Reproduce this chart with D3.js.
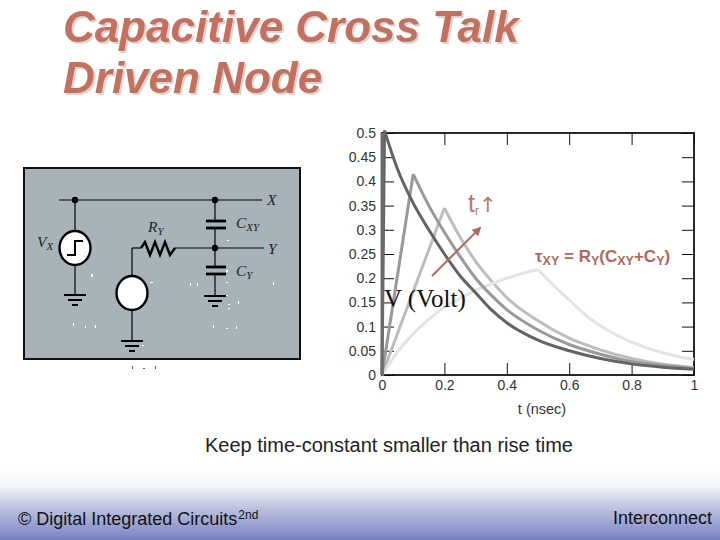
<!DOCTYPE html>
<html><head><meta charset="utf-8">
<script src="https://cdn.jsdelivr.net/npm/d3@7/dist/d3.min.js"></script>
<style>html,body{margin:0;padding:0;background:#fff}svg{display:block}</style>
</head><body><div id="c"></div>
<script>
const xTicks=[0,0.2,0.4,0.6,0.8,1];
const xTickLabels=["0","0.2","0.4","0.6","0.8","1"];
const yTicks=[0,0.05,0.1,0.15,0.2,0.25,0.3,0.35,0.4,0.45,0.5];
const yTickLabels=["0","0.05","0.1","0.15","0.2","0.25","0.3","0.35","0.4","0.45","0.5"];
const t1=[0,0.008,0.05,0.1,0.15,0.2,0.25,0.3,0.35,0.4,0.5,0.6,0.7,0.8,0.9,1];
const v1=[0,0.505,0.425,0.355,0.3,0.25,0.205,0.17,0.135,0.108,0.072,0.05,0.034,0.023,0.016,0.012];
const t2=[0,0.1,0.15,0.2,0.25,0.3,0.35,0.4,0.5,0.6,0.7,0.8,0.9,1];
const v2=[0,0.415,0.35,0.295,0.245,0.2,0.165,0.135,0.093,0.063,0.043,0.028,0.02,0.014];
const t3=[0,0.2,0.25,0.3,0.35,0.4,0.5,0.6,0.7,0.8,0.9,1];
const v3=[0,0.345,0.285,0.235,0.195,0.16,0.112,0.076,0.052,0.034,0.022,0.015];
const t4=[0,0.05,0.1,0.15,0.2,0.25,0.3,0.35,0.4,0.45,0.5,0.55,0.6,0.65,0.7,0.8,0.9,1];
const v4=[0,0.048,0.085,0.115,0.14,0.158,0.175,0.188,0.2,0.21,0.218,0.185,0.155,0.125,0.102,0.068,0.046,0.032];
const railT=[0,0];
const railV=[0,0.5];
const seriesColors=["#bdbdbd","#e4e4e4","#999999","#636363"];

const W=720,H=540;
const svg=d3.select("#c").append("svg").attr("width",W).attr("height",H);
const defs=svg.append("defs");
const g=defs.append("linearGradient").attr("id","foot").attr("x1",0).attr("x2",0).attr("y1",0).attr("y2",1);
[[0,"#ffffff"],[0.25,"#f2f3f8"],[0.55,"#bcc1de"],[1,"#7882c4"]].forEach(s=>g.append("stop").attr("offset",s[0]).attr("stop-color",s[1]));
svg.append("rect").attr("x",0).attr("y",470).attr("width",W).attr("height",70).attr("fill","url(#foot)");

// Title
const tfont="'Liberation Sans',Arial,sans-serif";
[["Capacitive Cross Talk",42],["Driven Node",93]].forEach(d=>{
  svg.append("text").attr("x",63).attr("y",d[1]).text(d[0]).attr("font-family",tfont).attr("font-size",44).attr("font-weight","bold").attr("font-style","italic").attr("fill","#c4705f").style("filter","drop-shadow(2px 2px 0 #d9d5d3)");
});

// Circuit
const cir=svg.append("g").attr("stroke","#000").attr("fill","none").attr("stroke-width",1.2);
svg.insert("rect","g").attr("x",24).attr("y",168).attr("width",276).attr("height",191).attr("fill","#a7b3b9").attr("stroke","#111").attr("stroke-width",2);
const ln=(x1,y1,x2,y2,w)=>cir.append("line").attr("x1",x1).attr("y1",y1).attr("x2",x2).attr("y2",y2).attr("stroke-width",w||1.2);
const dot=(x,y)=>cir.append("circle").attr("cx",x).attr("cy",y).attr("r",3.2).attr("fill","#000").attr("stroke","none");
const gnd=(x,y)=>{ln(x-11,y,x+11,y,2);ln(x-7,y+5,x+7,y+5,2);ln(x-3,y+10,x+3,y+10,2);};
ln(59,200,262,200);dot(75,200);dot(215,200);
ln(75,200,75,295);gnd(75,295);
cir.append("ellipse").attr("cx",75).attr("cy",248).attr("rx",15.5).attr("ry",17).attr("fill","#fff").attr("stroke-width",2.4);
cir.append("path").attr("d","M67 255H75V241H83").attr("stroke-width",2);
ln(132,248,132,341);ln(132,248,141,248);gnd(132,341);
cir.append("ellipse").attr("cx",132).attr("cy",293).attr("rx",15.5).attr("ry",17).attr("fill","#fff").attr("stroke-width",2.4);
cir.append("path").attr("d","M141 248L145 242L150 255L155 242L160 255L165 242L170 255L175 248").attr("stroke-width",2.4);
ln(175,248,264,248);dot(215,248);
ln(215,200,215,221);ln(206,221,226,221,2.8);ln(206,228,226,228,2.8);ln(215,228,215,267);
ln(206,267,226,267,2.8);ln(206,274,226,274,2.8);ln(215,274,215,296);gnd(215,296);
const st=(x,y,txt,sub)=>{
  const t=svg.append("text").attr("x",x).attr("y",y).attr("font-family","'Liberation Serif',serif").attr("font-style","italic").attr("font-size",15.5).attr("fill","#222").text(txt);
  if(sub)t.append("tspan").attr("font-size",11).attr("dy",3).text(sub);
};
st(267,205,"X");st(268,254,"Y");st(37,247,"V","X");st(148,232,"R","Y");st(236,228,"C","XY");st(236,276,"C","Y");
// white compression specks under the schematic
const specks=[[91,274,2,3],[150,282,3,1],[190,283,1,3],[197,283,1,3],[227,240,2,1],[226,270,2,2],[226,282,2,1],[226,295,2,1],[238,301,1,3],[273,282,1,3],[228,304,2,1],[228,308,2,1],
[73,323,1,3],[85,326,1,2],[95,325,1,3],[213,325,1,3],[226,328,2,1],[236,326,1,3],[142,345,2,1],[132,366,1,3],[143,368,2,1],[155,366,1,3]];
svg.append("g").selectAll("rect").data(specks).join("rect").attr("x",d=>d[0]).attr("y",d=>d[1]).attr("width",d=>d[2]).attr("height",d=>d[3]).attr("fill",d=>d[1]>360?"#555":"#fff");

// Chart
const x=d3.scaleLinear().domain([0,1]).range([382,694]);
const y=d3.scaleLinear().domain([0,0.5]).range([375,133]);
const lab="'Liberation Sans',Arial,sans-serif";
const ch=svg.append("g");
const fr=ch.append("g");
const tl=12;
function styl(s){s.select(".domain").remove();s.selectAll("line").attr("stroke","#111").attr("stroke-width",1);s.selectAll("text").attr("font-family",lab).attr("font-size",14).attr("fill","#333");}
fr.append("g").attr("transform",`translate(0,${y(0)})`).call(d3.axisBottom(x).tickValues(xTicks).tickFormat((d,i)=>xTickLabels[i]).tickSizeInner(-tl).tickPadding(5)).call(styl);
fr.append("g").attr("transform",`translate(0,${y(0.5)})`).call(d3.axisTop(x).tickValues(xTicks).tickFormat("").tickSizeInner(-tl)).call(styl);
fr.append("g").attr("transform",`translate(${x(0)},0)`).call(d3.axisLeft(y).tickValues(yTicks).tickFormat((d,i)=>yTickLabels[i]).tickSizeInner(-tl).tickPadding(6)).call(styl);
fr.append("g").attr("transform",`translate(${x(1)},0)`).call(d3.axisRight(y).tickValues(yTicks).tickFormat("").tickSizeInner(-tl)).call(styl);
fr.append("rect").attr("x",x(0)).attr("y",y(0.5)).attr("width",x(1)-x(0)).attr("height",y(0)-y(0.5)).attr("fill","none").attr("stroke","#111").attr("stroke-width",1.8);

const line=d3.line().x(d=>x(d[0])).y(d=>y(d[1]));
const zipS=(a,b)=>a.map((v,i)=>[v,b[i]]);
const path=(a,b,c,w,curve)=>ch.append("path").datum(zipS(a,b)).attr("d",line.curve(curve||d3.curveLinear)).attr("fill","none").attr("stroke",c).attr("stroke-width",w).attr("stroke-linejoin","miter");
const seg=(a,b,k,c,w)=>{path(a.slice(0,k+1),b.slice(0,k+1),c,w,k>1?d3.curveMonotoneX:d3.curveLinear);path(a.slice(k),b.slice(k),c,w,d3.curveMonotoneX);};
seg(t3,v3,1,seriesColors[0],3);
seg(t4,v4,10,seriesColors[1],3);
seg(t2,v2,1,seriesColors[2],3);
seg(t1,v1,1,seriesColors[3],3);
path(railT,railV,"#6e6e6e",3);

// Annotations
defs.append("marker").attr("id","ah").attr("viewBox","0 0 10 10").attr("refX",8).attr("refY",5).attr("markerWidth",9).attr("markerHeight",9).attr("markerUnits","userSpaceOnUse").attr("orient","auto").append("path").attr("d","M0 0L10 5L0 10Z").attr("fill","#ad6a60");
ch.append("line").attr("x1",432).attr("y1",276).attr("x2",480).attr("y2",228).attr("stroke","#ad6a60").attr("stroke-width",2).attr("marker-end","url(#ah)");
const tr=ch.append("text").attr("x",468).attr("y",212).attr("font-family",lab).attr("font-size",25).attr("fill","#b97a6c").text("t");
tr.append("tspan").attr("font-size",12).attr("dy",3).text("r");
tr.append("tspan").attr("font-size",21).attr("dy",-3).attr("font-family","'DejaVu Sans',sans-serif").text("↑");
const tau=ch.append("text").attr("x",535).attr("y",262).attr("font-family",lab).attr("font-size",17).attr("font-weight","bold").attr("fill","#b0675c").text("τ");
[["XY",1],[" = R",0],["Y",1],["(C",0],["XY",1],["+C",0],["Y",1],[")",0]].forEach((p,i,a)=>{
  const prev=i?a[i-1][1]:0;
  tau.append("tspan").attr("xml:space","preserve").attr("font-size",p[1]?12.5:17).attr("dy",(p[1]-prev)*3).text(p[0]);
});
ch.append("text").attr("x",384).attr("y",307).attr("font-family","'Liberation Serif',serif").attr("font-size",25).attr("fill","#111").text("V (Volt)");
ch.append("text").attr("x",542).attr("y",414).attr("text-anchor","middle").attr("font-family",lab).attr("font-size",14.5).attr("fill","#333").text("t (nsec)");
svg.append("text").attr("x",389).attr("y",452).attr("text-anchor","middle").attr("font-family",lab).attr("font-size",20).attr("fill","#222").text("Keep time-constant smaller than rise time");
const ft=svg.append("text").attr("x",18).attr("y",525).attr("font-family",lab).attr("font-size",18).attr("fill","#111").text("© Digital Integrated Circuits");
ft.append("tspan").attr("font-size",12).attr("dy",-6).attr("dx",1).text("2nd");
svg.append("text").attr("x",712).attr("y",524).attr("text-anchor","end").attr("font-family",lab).attr("font-size",18).attr("fill","#111").text("Interconnect");
</script></body></html>
